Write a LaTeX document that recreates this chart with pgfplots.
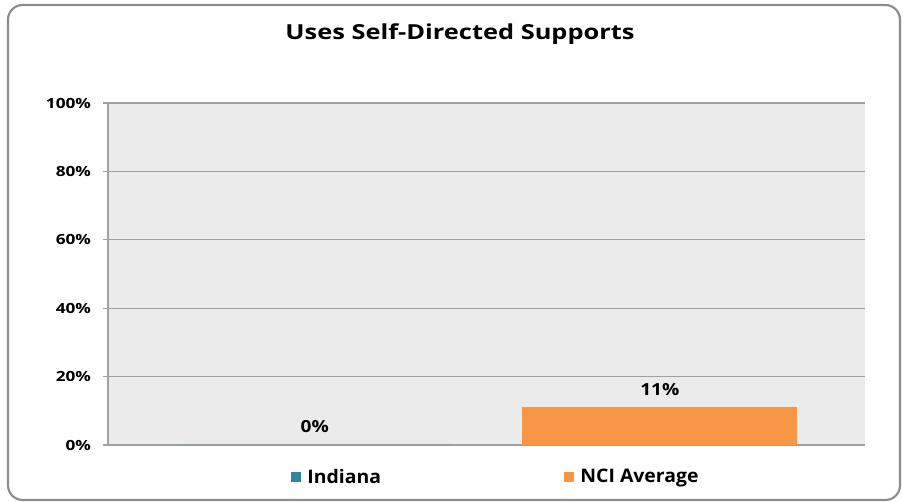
\documentclass[border=0pt]{standalone}
\usepackage{fontspec}
\setmainfont{Open Sans}
\newfontfamily\wideA{Open Sans}[FakeStretch=1.23]
\newfontfamily\wideB{Open Sans}[FakeStretch=1.15]
\newfontfamily\wideC{Open Sans}[FakeStretch=1.04]
\usepackage{pgfplots}
\pgfplotsset{compat=1.18}
\definecolor{bgc}{HTML}{EBEBEB}
\definecolor{gridc}{HTML}{A0A0A0}
\definecolor{orangec}{HTML}{F79646}
\definecolor{tealc}{HTML}{31859C}
\definecolor{framec}{HTML}{8C8C8C}
\begin{document}
\begin{tikzpicture}
\useasboundingbox (0pt,0pt) rectangle (677.25pt,376.5pt);
\draw[framec, line width=1.6pt, rounded corners=11pt] (6pt,1.5pt) rectangle (675pt,372.75pt);
\node[font=\wideA\bfseries\fontsize{15.5}{18}\selectfont] at (345pt,351pt) {Uses Self-Directed Supports};
\begin{axis}[
  at={(81pt,42.75pt)}, anchor=south west,
  scale only axis, width=567.75pt, height=256.5pt,
  xmin=0, xmax=1, ymin=0, ymax=100,
  axis background/.style={fill=bgc},
  axis x line*=bottom, axis y line*=left,
  axis line style={gridc, line width=0.8pt, -},
  xtick=\empty,
  ytick={0,20,40,60,80,100},
  yticklabel={\pgfmathprintnumber{\tick}\%},
  /pgf/number format/assume math mode=true,
  yticklabel style={font=\wideA\bfseries\fontsize{10.5}{12}\selectfont, xshift=-5.5pt},
  tick align=outside, major tick length=3.75pt,
  tick style={gridc, line width=0.8pt},
  ymajorgrids, grid style={gridc, line width=0.8pt},
  ybar, bar width=0.363,
  nodes near coords={\pgfmathprintnumber{\pgfplotspointmeta}\%},
  every node near coord/.append style={font=\wideB\bfseries\fontsize{12.5}{14}\selectfont, anchor=center, yshift=13.5pt, text=black},
  legend columns=2,
  legend style={at={(0.513,-0.094)}, anchor=center, draw=none, fill=none,
    font=\wideC\bfseries\fontsize{14}{16}\selectfont,
    /tikz/every odd column/.append style={column sep=2.5pt},
    /tikz/every even column/.append style={column sep=135.5pt}},
  legend image code/.code={\fill[#1] (0pt,-3.5pt) rectangle (7.5pt,4pt);},
]
\addplot[fill=tealc, draw=none, bar shift=0pt] coordinates {(0.273,0)};
\addlegendentry{Indiana}
\addplot[fill=orangec, draw=none, bar shift=0pt] coordinates {(0.729,11)};
\addlegendentry{NCI Average}
\end{axis}
\end{tikzpicture}
\end{document}
